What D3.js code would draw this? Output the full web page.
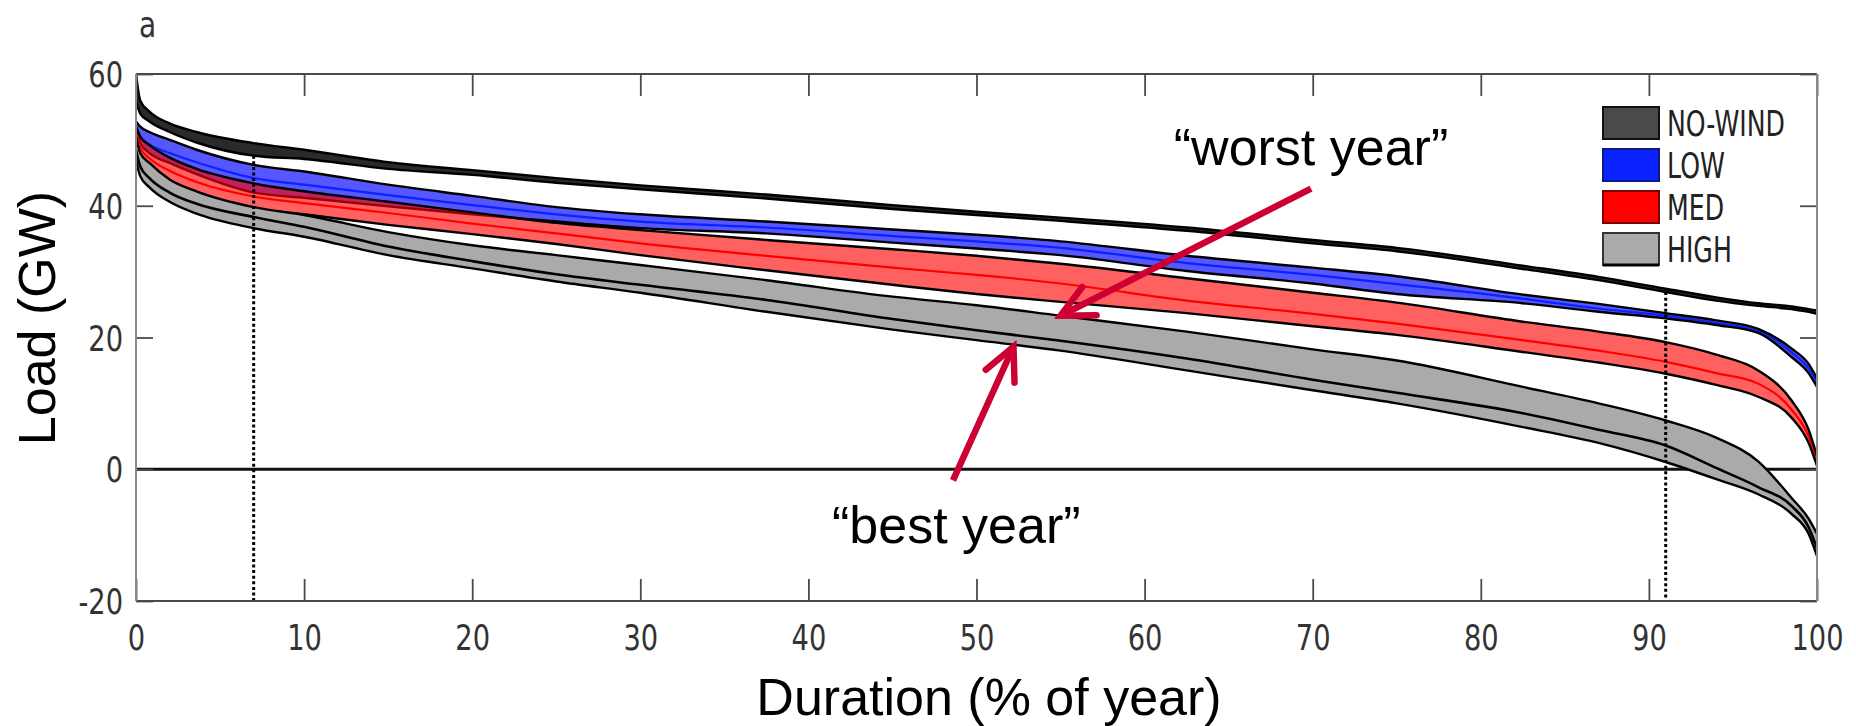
<!DOCTYPE html>
<html>
<head>
<meta charset="utf-8">
<script src="https://cdn.jsdelivr.net/npm/d3@7"></script>
<style>
  html, body { margin: 0; padding: 0; background: #fff; }
</style>
</head>
<body>
<svg id="chart" width="1856" height="726"></svg>
<script>
// Load duration curves: share of the year (%) against residual load (GW)
const duration = [0, 0.25, 0.8, 2, 3.6, 7, 10, 15, 20, 25, 30, 37.5, 45, 50, 55, 62.5, 70, 75, 82.5, 87, 91, 94, 96.5, 98.5, 99.5, 100];

// NO-WIND: envelope over the simulated years
const noWindHi = [60, 56, 54.3, 52.5, 51.2, 49.5, 48.5, 46.6, 45.4, 44.2, 43.1, 41.7, 40.1, 39.1, 38.2, 36.7, 34.8, 33.6, 30.9, 29.2, 27.4, 26.1, 25.2, 24.7, 24.3, 24.1];
const noWindLo = [56, 54, 52.8, 51.2, 49.6, 47.6, 47.1, 45.6, 44.7, 43.5, 42.5, 41.1, 39.5, 38.6, 37.7, 36.2, 34.3, 33.1, 30.4, 28.7, 26.9, 25.6, 24.8, 24.3, 23.9, 23.6];

// LOW wind penetration: worst year, median, best year
const lowHi  = [52.8, 52.0, 51.2, 50.0, 48.5, 46.2, 45.2, 43.2, 41.5, 39.8, 38.7, 37.6, 36.4, 35.6, 34.6, 32.4, 30.6, 29.3, 26.5, 25.1, 23.7, 22.6, 21.3, 18.3, 16.0, 13.8];
const lowMid = [52.2, 50.5, 49.3, 48.0, 46.6, 44.2, 43.2, 41.6, 40.1, 38.7, 37.6, 36.7, 35.4, 34.6, 33.6, 31.3, 29.5, 28.1, 25.9, 24.4, 23.3, 22.2, 21.0, 17.7, 15.3, 13.2];
const lowLo  = [51.5, 49.5, 48.0, 46.5, 44.8, 42.0, 41.2, 39.9, 38.7, 37.6, 36.6, 35.8, 34.4, 33.5, 32.5, 30.1, 28.2, 26.6, 25.2, 23.9, 22.9, 21.9, 20.7, 17.0, 14.6, 12.5];

// MED wind penetration
const medHi  = [52.0, 50.5, 49.2, 47.3, 45.6, 43.4, 42.2, 40.6, 39.0, 37.4, 36.3, 34.8, 33.4, 32.4, 31.2, 29.0, 26.8, 25.3, 22.4, 20.9, 19.3, 17.4, 15.0, 10.4, 6.0, 2.0];
const medMid = [51.0, 48.8, 47.2, 45.3, 43.6, 41.4, 40.4, 38.9, 37.3, 35.8, 34.3, 32.4, 30.6, 29.5, 28.2, 25.6, 23.6, 22.1, 19.6, 18.0, 16.3, 14.6, 13.0, 9.0, 5.0, 1.2];
const medLo  = [50.0, 47.5, 45.5, 43.3, 41.6, 39.6, 38.7, 37.1, 35.7, 34.2, 32.5, 30.2, 28.0, 26.6, 25.4, 23.7, 21.7, 20.4, 17.8, 16.2, 14.5, 12.8, 11.0, 7.8, 4.0, 0.5];

// HIGH wind penetration
const highHi  = [50.5, 48.0, 46.5, 44.0, 42.2, 39.8, 38.6, 36.0, 34.0, 32.5, 31.0, 28.7, 26.2, 24.9, 23.3, 20.9, 18.2, 16.5, 12.5, 10.0, 7.4, 4.8, 1.2, -4.4, -7.5, -9.8];
const highMid = [48.5, 46.0, 44.2, 42.0, 40.3, 38.3, 36.8, 33.8, 31.6, 29.6, 28.0, 25.7, 22.8, 21.1, 19.5, 16.8, 13.6, 11.6, 8.5, 6.0, 3.6, 0.2, -2.7, -5.6, -8.8, -12.0];
const highLo  = [47.0, 44.5, 42.8, 40.6, 38.8, 36.6, 35.3, 32.5, 30.5, 28.5, 26.8, 23.9, 21.2, 19.6, 18.0, 15.0, 12.0, 10.0, 6.4, 4.0, 1.1, -1.5, -3.8, -6.8, -9.8, -13.2];

const scenarioNames = ["NO-WIND", "LOW", "MED", "HIGH"];
const xTicks = [0, 10, 20, 30, 40, 50, 60, 70, 80, 90, 100];
const yTicks = [-20, 0, 20, 40, 60];
const markerDurations = [7, 91];

// Annotations (positions in data units)
const annotationText = ["\u201cworst year\u201d", "\u201cbest year\u201d"];
const annotationTextAt = [[69.9, 46.2], [48.8, -11.2]];
const annotationTail = [[69.9, 42.6], [48.6, -1.7]];
const annotationTip = [[55, 23.3], [52.2, 18.6]];

// ---------------------------------------------------------------
const svg = d3.select("#chart");
const W = 1856, H = 726;
const plot = { left: 136, right: 1817, top: 74, bottom: 601 };

svg.append("rect").attr("width", W).attr("height", H).attr("fill", "#fff");

const x = d3.scaleLinear().domain([0, 100]).range([plot.left, plot.right]);
const y = d3.scaleLinear().domain([-20, 60]).range([plot.bottom, plot.top]);

const style = {
  "NO-WIND": { fill: "#2a2a2a", opacity: 1,    mid: null,      swatch: "#4a4a4a", swatchStroke: "#111" },
  "LOW":     { fill: "#0000ff", opacity: 0.66, mid: "#0a22ff", swatch: "#0a22ff", swatchStroke: "#0a1a80" },
  "MED":     { fill: "#ff0000", opacity: 0.62, mid: "#ff0000", swatch: "#ff0000", swatchStroke: "#7a0000" },
  "HIGH":    { fill: "#aaaaaa", opacity: 1,    mid: "#000000", swatch: "#aaaaaa", swatchStroke: "#333" }
};

const series = [
  { name: "NO-WIND", hi: noWindHi, mid: null,    lo: noWindLo },
  { name: "LOW",     hi: lowHi,    mid: lowMid,  lo: lowLo },
  { name: "MED",     hi: medHi,    mid: medMid,  lo: medLo },
  { name: "HIGH",    hi: highHi,   mid: highMid, lo: highLo }
];

const clipId = "plot-clip";
svg.append("defs").append("clipPath").attr("id", clipId)
  .append("rect")
  .attr("x", plot.left).attr("y", plot.top)
  .attr("width", plot.right - plot.left).attr("height", plot.bottom - plot.top);

const area = d3.area()
  .x(d => x(d.t)).y0(d => y(d.lo)).y1(d => y(d.hi))
  .curve(d3.curveMonotoneX);
const line = d3.line()
  .x(d => x(d.t)).y(d => y(d.v))
  .curve(d3.curveMonotoneX);

const g = svg.append("g").attr("clip-path", `url(#${clipId})`);

// zero line
g.append("line")
  .attr("x1", x(0)).attr("x2", x(100))
  .attr("y1", y(0)).attr("y2", y(0))
  .attr("stroke", "#111").attr("stroke-width", 3.2);

// bands, then their edges and median lines
series.forEach(s => {
  const st = style[s.name];
  const pts = duration.map((t, i) => ({ t, hi: s.hi[i], lo: s.lo[i] }));
  g.append("path")
    .attr("d", area(pts))
    .attr("fill", st.fill)
    .attr("fill-opacity", st.opacity)
    .attr("stroke", "none");
  if (s.mid) {
    g.append("path")
      .attr("d", line(duration.map((t, i) => ({ t, v: s.mid[i] }))))
      .attr("fill", "none")
      .attr("stroke", st.mid)
      .attr("stroke-width", s.name === "HIGH" ? 2.6 : 2.2);
  }
  [s.hi, s.lo].forEach(arr => {
    g.append("path")
      .attr("d", line(duration.map((t, i) => ({ t, v: arr[i] }))))
      .attr("fill", "none")
      .attr("stroke", "#000")
      .attr("stroke-width", 2.4);
  });
});

// dotted markers from the NO-WIND curve down to the axis
markerDurations.forEach(t => {
  const i = duration.indexOf(t);
  g.append("line")
    .attr("x1", x(t)).attr("x2", x(t))
    .attr("y1", y(noWindLo[i])).attr("y2", y(-20))
    .attr("stroke", "#000").attr("stroke-width", 3)
    .attr("stroke-dasharray", "3,2.6");
});

// ---------------- axes ----------------
const tickFont = "DejaVu Sans";
const axisColor = "#4a4a4a";
const plainNumber = d => String(d);

const xAxis = svg.append("g")
  .attr("transform", `translate(0,${plot.bottom})`)
  .call(d3.axisBottom(x).tickValues(xTicks).tickFormat(plainNumber).tickSizeInner(-22).tickSizeOuter(0).tickPadding(24));
xAxis.selectAll("text")
  .attr("font-family", tickFont).attr("font-size", 35).attr("fill", "#333")
  .attr("y", 24).attr("dy", "0.71em")
  .attr("transform", "scale(0.78,1)");

const xTop = svg.append("g")
  .attr("transform", `translate(0,${plot.top})`)
  .call(d3.axisTop(x).tickValues(xTicks).tickSizeInner(-22).tickSizeOuter(0).tickFormat(""));

const yAxis = svg.append("g")
  .attr("transform", `translate(${plot.left},0)`)
  .call(d3.axisLeft(y).tickValues(yTicks).tickFormat(plainNumber).tickSizeInner(-17).tickSizeOuter(0).tickPadding(13));
yAxis.selectAll("text")
  .attr("font-family", tickFont).attr("font-size", 35).attr("fill", "#333")
  .attr("x", null).attr("dy", "0.36em")
  .attr("transform", "translate(-13,0) scale(0.78,1)");

const yRight = svg.append("g")
  .attr("transform", `translate(${plot.right},0)`)
  .call(d3.axisRight(y).tickValues(yTicks).tickSizeInner(-17).tickSizeOuter(0).tickFormat(""));

[xAxis, xTop, yAxis, yRight].forEach(a => {
  a.select(".domain").remove();
  a.selectAll(".tick line").attr("stroke", axisColor).attr("stroke-width", 1.8);
});

// axes box
const box = svg.append("g").attr("fill", "none");
box.append("line").attr("x1", plot.left).attr("x2", plot.right).attr("y1", plot.top).attr("y2", plot.top)
  .attr("stroke", axisColor).attr("stroke-width", 2.2);
box.append("line").attr("x1", plot.left).attr("x2", plot.right).attr("y1", plot.bottom).attr("y2", plot.bottom)
  .attr("stroke", axisColor).attr("stroke-width", 2.2);
box.append("line").attr("x1", plot.left).attr("x2", plot.left).attr("y1", plot.top).attr("y2", plot.bottom)
  .attr("stroke", "#888").attr("stroke-width", 2);
box.append("line").attr("x1", plot.right).attr("x2", plot.right).attr("y1", plot.top).attr("y2", plot.bottom)
  .attr("stroke", "#888").attr("stroke-width", 2);

// panel letter
svg.append("text")
  .attr("font-family", tickFont).attr("font-size", 36).attr("fill", "#333")
  .attr("transform", "translate(139,37) scale(0.78,1)")
  .text("a");

// axis titles
svg.append("text")
  .attr("font-family", "Liberation Sans, Arial, sans-serif").attr("font-size", 52).attr("fill", "#000")
  .attr("text-anchor", "middle")
  .attr("x", 989).attr("y", 715)
  .text("Duration (% of year)");

svg.append("text")
  .attr("font-family", "Liberation Sans, Arial, sans-serif").attr("font-size", 52).attr("fill", "#000")
  .attr("text-anchor", "middle")
  .attr("transform", "translate(55,318) rotate(-90)")
  .text("Load (GW)");

// ---------------- legend ----------------
const legend = svg.append("g").attr("transform", "translate(1603,107)");
scenarioNames.forEach((name, i) => {
  const st = style[name];
  const row = legend.append("g").attr("transform", `translate(0,${i * 42})`);
  row.append("rect")
    .attr("x", 0).attr("y", 0).attr("width", 56).attr("height", 32)
    .attr("fill", st.swatch).attr("stroke", st.swatchStroke).attr("stroke-width", 2);
  if (name === "HIGH") {
    row.append("line").attr("x1", 0).attr("x2", 56).attr("y1", 32).attr("y2", 32)
      .attr("stroke", "#000").attr("stroke-width", 3);
  }
  row.append("text")
    .attr("font-family", tickFont).attr("font-size", 35).attr("fill", "#222")
    .attr("transform", "translate(64,29) scale(0.72,1)")
    .text(name);
});

// ---------------- annotations ----------------
const ann = svg.append("g");
const arrowColor = "#cc0033";
annotationText.forEach((txt, i) => {
  ann.append("text")
    .attr("font-family", "Liberation Sans, Arial, sans-serif").attr("font-size", 52).attr("fill", "#000")
    .attr("text-anchor", "middle")
    .attr("x", x(annotationTextAt[i][0])).attr("y", y(annotationTextAt[i][1]))
    .text(txt);

  const x0 = x(annotationTail[i][0]), y0 = y(annotationTail[i][1]);
  const x1 = x(annotationTip[i][0]),  y1 = y(annotationTip[i][1]);
  ann.append("line")
    .attr("x1", x0).attr("y1", y0).attr("x2", x1).attr("y2", y1)
    .attr("stroke", arrowColor).attr("stroke-width", 6.5);
  const back = Math.atan2(y0 - y1, x0 - x1);
  const spread = 26 * Math.PI / 180, len = 36;
  const head = [back - spread, back + spread].map(a => [x1 + len * Math.cos(a), y1 + len * Math.sin(a)]);
  ann.append("path")
    .attr("d", `M${head[0][0]},${head[0][1]}L${x1},${y1}L${head[1][0]},${head[1][1]}`)
    .attr("fill", "none").attr("stroke", arrowColor).attr("stroke-width", 6.5)
    .attr("stroke-linejoin", "miter").attr("stroke-linecap", "round");
});
</script>
</body>
</html>
